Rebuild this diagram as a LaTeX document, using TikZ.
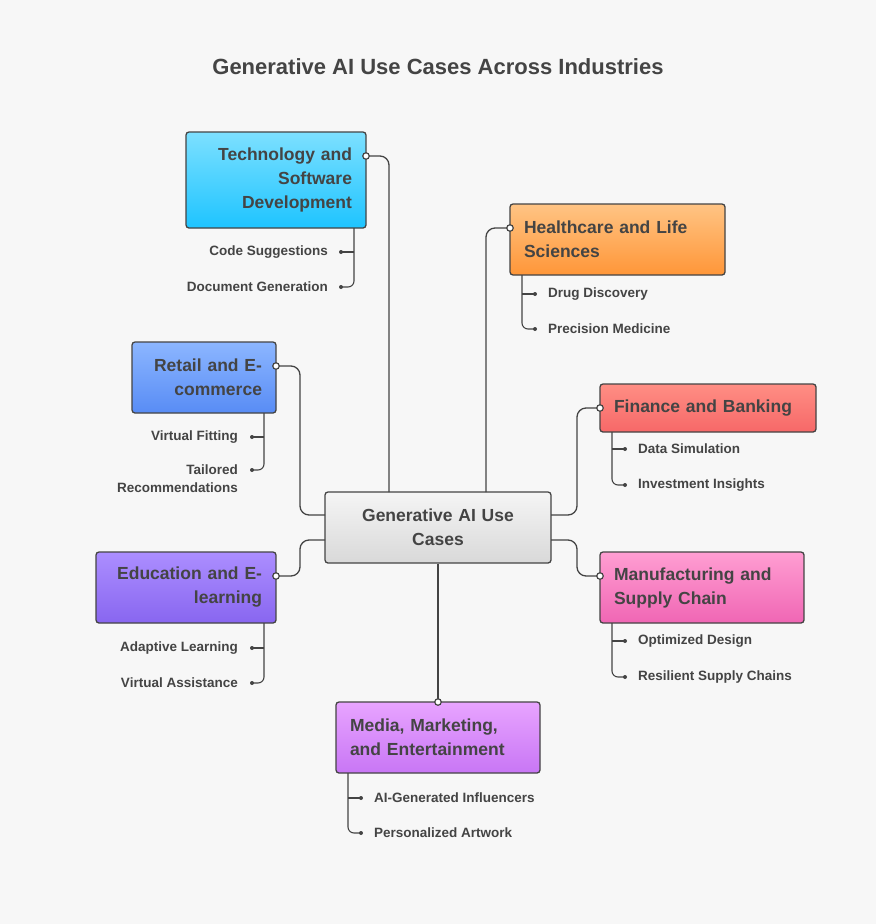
\documentclass[tikz,border=0pt]{standalone}
\usepackage{fontspec}
\setmainfont{Liberation Sans}
\begin{document}
\begin{tikzpicture}[x=1pt,y=-1pt,
  box/.style={draw=lc,line width=1.3pt,rounded corners=3pt,inner xsep=14pt,inner ysep=0pt,font=\fontsize{17.5}{24}\selectfont\bfseries,text=tc},
  conn/.style={draw=lc,line width=1.3pt,rounded corners=9pt},
  port/.style={circle,draw=lc,fill=white,line width=1.2pt,inner sep=0pt,minimum size=6.5pt},
  dot/.style={circle,fill=lc,inner sep=0pt,minimum size=4pt},
  sub/.style={font=\fontsize{13.5}{18}\selectfont\bfseries,text=tc,inner sep=0pt},
  subl/.style={draw=lc,line width=1.1pt,rounded corners=6pt}]
\definecolor{lc}{HTML}{444444}
\definecolor{tc}{HTML}{444444}
\fill[white!97!black] (0,0) rectangle (876,924);
\useasboundingbox (0,0) rectangle (876,924);
\node[font=\fontsize{22}{26}\selectfont\bfseries,text=tc] (title) at (438,67) {Generative AI Use Cases Across Industries};

\node[box,top color=gray!8,bottom color=gray!30,minimum width=226pt,minimum height=71pt,text width=198pt,align=center] (c) at (438,527.5) {Generative AI Use\\Cases};
\node[box,top color={rgb,255:red,125;green,224;blue,255},bottom color={rgb,255:red,30;green,196;blue,255},minimum width=180pt,minimum height=96pt,text width=152pt,align=right] (tech) at (276,180) {Technology and\\Software\\Development};
\node[box,top color={rgb,255:red,255;green,196;blue,132},bottom color={rgb,255:red,255;green,150;blue,56},minimum width=215pt,minimum height=71pt,text width=187pt,align=left] (hc) at (617.5,239.5) {Healthcare and Life\\Sciences};
\node[box,top color={rgb,255:red,140;green,182;blue,255},bottom color={rgb,255:red,88;green,140;blue,245},minimum width=144pt,minimum height=71pt,text width=116pt,align=right] (ret) at (204,377.5) {Retail and E-\\commerce};
\node[box,top color={rgb,255:red,255;green,142;blue,132},bottom color={rgb,255:red,246;green,104;blue,104},minimum width=216pt,minimum height=48pt,text width=188pt,align=left] (fin) at (708,408) {Finance and Banking};
\node[box,top color={rgb,255:red,172;green,142;blue,255},bottom color={rgb,255:red,136;green,102;blue,240},minimum width=180pt,minimum height=71pt,text width=152pt,align=right] (edu) at (186,587.5) {Education and E-\\learning};
\node[box,top color={rgb,255:red,255;green,158;blue,210},bottom color={rgb,255:red,240;green,102;blue,180},minimum width=204pt,minimum height=71pt,text width=176pt,align=left] (man) at (702,587.5) {Manufacturing and\\Supply Chain};
\node[box,top color={rgb,255:red,232;green,164;blue,255},bottom color={rgb,255:red,200;green,118;blue,245},minimum width=204pt,minimum height=71pt,text width=176pt,align=left] (med) at (438,737.5) {Media, Marketing,\\and Entertainment};

% ports
\coordinate (tp) at (366,156); \coordinate (hp) at (510,228);
\coordinate (rp) at (276,366); \coordinate (fp) at (600,408);
\coordinate (ep) at (276,576); \coordinate (mp) at (600,576);
\coordinate (dp) at (438,702);
\draw[conn] (tp) -| (389,492);
\draw[conn] (hp) -| (486,492);
\draw[conn] (rp) -| (300,515) -- (325,515);
\draw[conn] (325,540) -| (300,576) -- (ep);
\draw[conn] (551,515) -| (577,408) -- (fp);
\draw[conn] (551,540) -| (577,576) -- (mp);
\draw[conn] (c.south) -- (dp);
\foreach \p in {tp,hp,rp,fp,ep,mp,dp} \node[port] at (\p) {};

% sub items
\newcommand\rsub[5]{% x line, ytop, y1, y2, labels handled outside
  \draw[subl] (#1,#2) -- (#1,#4) |- (#5,#4);}
% Tech
\draw[subl] (354,228) |- (341,287); \draw[subl] (354,252) -- (341,252);
\node[dot] at (341,252) {}; \node[dot] at (341,287) {};
\node[sub,anchor=east] (t1) at (328,252) {Code Suggestions};
\node[sub,anchor=east] (t2) at (328,287) {Document Generation};
% Healthcare
\draw[subl] (522,275) |- (535,329); \draw[subl] (522,294) -- (535,294);
\node[dot] at (535,294) {}; \node[dot] at (535,329) {};
\node[sub,anchor=west] (h1) at (548,294) {Drug Discovery};
\node[sub,anchor=west] (h2) at (548,329) {Precision Medicine};
% Retail
\draw[subl] (264,413) |- (252,470); \draw[subl] (264,437) -- (252,437);
\node[dot] at (252,437) {}; \node[dot] at (252,470) {};
\node[sub,anchor=east] (r1) at (238,437) {Virtual Fitting};
\node[sub,anchor=east,align=right] (r2) at (238,479) {Tailored\\Recommendations};
% Finance
\draw[subl] (612,432) |- (625,485); \draw[subl] (612,449) -- (625,449);
\node[dot] at (625,449) {}; \node[dot] at (625,485) {};
\node[sub,anchor=west] (f1) at (638,449) {Data Simulation};
\node[sub,anchor=west] (f2) at (638,485) {Investment Insights};
% Education
\draw[subl] (264,623) |- (252,683); \draw[subl] (264,648) -- (252,648);
\node[dot] at (252,648) {}; \node[dot] at (252,683) {};
\node[sub,anchor=east] (e1) at (238,648) {Adaptive Learning};
\node[sub,anchor=east] (e2) at (238,683) {Virtual Assistance};
% Manufacturing
\draw[subl] (612,623) |- (625,677); \draw[subl] (612,641) -- (625,641);
\node[dot] at (625,641) {}; \node[dot] at (625,677) {};
\node[sub,anchor=west] (m1) at (638,641) {Optimized Design};
\node[sub,anchor=west] (m2) at (638,677) {Resilient Supply Chains};
% Media
\draw[subl] (348,773) |- (361,833); \draw[subl] (348,798) -- (361,798);
\node[dot] at (361,798) {}; \node[dot] at (361,833) {};
\node[sub,anchor=west] (d1) at (374,798) {AI-Generated Influencers};
\node[sub,anchor=west] (d2) at (374,833) {Personalized Artwork};
\end{tikzpicture}
\end{document}
